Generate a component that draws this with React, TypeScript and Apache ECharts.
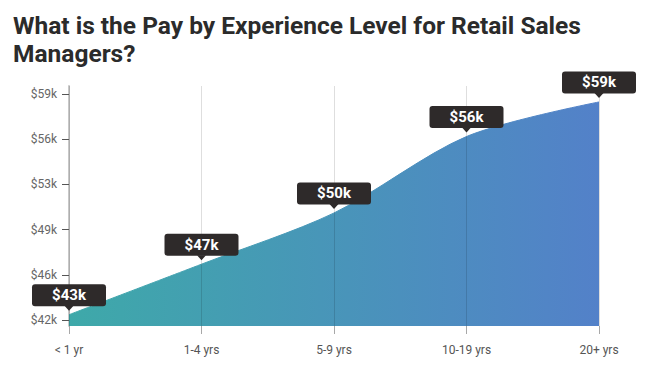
import React, { useEffect, useRef } from "react";
import * as echarts from "echarts";

const titleText = "What is the Pay by Experience Level for Retail Sales\nManagers?";
const categories = ["< 1 yr", "1-4 yrs", "5-9 yrs", "10-19 yrs", "20+ yrs"];
const payValues = [42700, 46500, 50350, 56100, 58700];
const yTickValues = [42300, 45700, 49100, 52500, 55900, 59300];
const yMin = 41850;
const yMax = 59900;

const fmtK = (v: number) => "$" + Math.round(v / 1000) + "k";

export default function App() {
  const ref = useRef<HTMLDivElement>(null);
  useEffect(() => {
    if (!ref.current) return;
    const chart = echarts.init(ref.current, null, { renderer: "svg" });
    const grad = new echarts.graphic.LinearGradient(0, 0, 1, 0, [
      { offset: 0, color: "#3ea9a9" },
      { offset: 1, color: "#5381c9" },
    ]);
    chart.setOption({
      animation: false,
      title: {
        text: titleText,
        left: 8,
        top: 6,
        textStyle: {
          fontFamily: "Roboto",
          fontSize: 24.5,
          fontWeight: "bold",
          lineHeight: 28,
          color: "#2b2b2b",
        },
      },
      grid: { left: 69, right: 47, top: 86, bottom: 41, containLabel: false },
      xAxis: {
        type: "category",
        data: categories,
        boundaryGap: false,
        z: 3,
        axisLine: { show: true, lineStyle: { color: "rgba(255,255,255,0.25)", width: 1 } },
        axisTick: { show: true, length: 8, lineStyle: { color: "#a8a8a8", width: 1 } },
        axisLabel: {
          margin: 18,
          color: "#555",
          fontFamily: "Roboto",
          fontSize: 12,
        },
        splitLine: { show: true, lineStyle: { color: "rgba(0,0,0,0.13)", width: 1 } },
      },
      yAxis: {
        type: "value",
        min: yMin,
        max: yMax,
        axisLine: { show: true, lineStyle: { color: "#c8c8c8", width: 2 } },
        axisTick: {
          show: true,
          length: 7,
          customValues: yTickValues,
          lineStyle: { color: "#555", width: 1 },
        },
        axisLabel: {
          customValues: yTickValues,
          margin: 12,
          color: "#666",
          fontFamily: "Roboto",
          fontSize: 12,
          formatter: (v: number) => fmtK(v),
        },
        splitLine: { show: false },
      },
      series: [
        {
          type: "line",
          data: payValues,
          smooth: 0.3,
          symbol: "none",
          z: 2,
          silent: true,
          lineStyle: { width: 1, color: grad },
          areaStyle: { color: grad, opacity: 1 },
        },
        {
          type: "scatter",
          data: payValues,
          z: 5,
          silent: true,
          symbol: "path://M0 0 L10 0 L5 6 Z",
          symbolSize: [9, 5],
          symbolOffset: [0, -6.5],
          itemStyle: { color: "#2e2a2a", opacity: 1 },
          label: {
            show: true,
            position: "top",
            distance: -0.5,
            formatter: (p: any) => fmtK(p.value),
            color: "#fff",
            fontFamily: "Roboto",
            fontSize: 15,
            fontWeight: "bold",
            backgroundColor: "#2e2a2a",
            borderRadius: 3,
            width: 74,
            height: 16,
            lineHeight: 16,
            padding: [3, 0, 3, 0],
            align: "center",
          },
        },
      ],
    });
    return () => chart.dispose();
  }, []);
  return (
    <div
      ref={ref}
      style={{ position: "fixed", left: 0, top: 0, width: 646, height: 367, background: "#fff" }}
    />
  );
}
